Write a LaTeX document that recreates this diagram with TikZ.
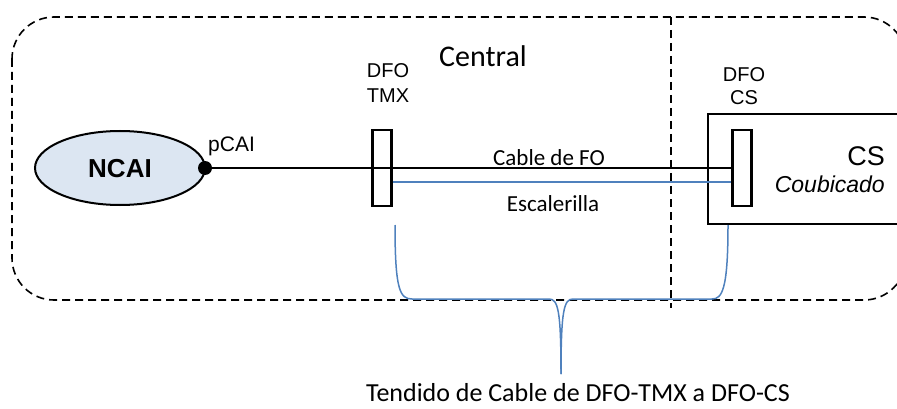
\documentclass[tikz,border=0pt]{standalone}
\usepackage{fontspec}
\setmainfont{Liberation Sans}
\newfontfamily\calib{Carlito}
\usetikzlibrary{shapes.geometric}
\definecolor{lblue}{HTML}{DCE6F2}
\definecolor{bline}{HTML}{4F81BD}
\tikzset{
  dashbox/.style={draw=black, line width=1.6pt, dash pattern=on 8pt off 5pt},
  dfobox/.style={draw=black, line width=2.4pt, fill=white, minimum width=19pt, minimum height=76pt, inner sep=0pt},
  lbl/.style={inner sep=0pt, font=\fontsize{20}{24}\selectfont, align=center},
  cal/.style={inner sep=0pt, font=\calib\fontsize{23}{25}\selectfont},
  bluewire/.style={draw=bline, line width=1.5pt},
}
\begin{document}
\begin{tikzpicture}[x=1pt,y=-1pt]
\useasboundingbox (0,0) rectangle (897,409);
\begin{scope}
\clip (0,0) rectangle (897,409);
% outer dashed region
\draw[dashbox, rounded corners=42pt] (12,17) rectangle (906,300);
\draw[dashbox] (671,17) -- (671,308);
% CS box
\node[draw=black, line width=2.4pt, minimum width=200pt, minimum height=110pt, anchor=north west, inner sep=0pt] (csbox) at (707,113) {};
\end{scope}
\node[lbl, font=\fontsize{27}{29}\selectfont, anchor=base east] (cstext) at (885,165) {CS};
\node[lbl, font=\itshape\fontsize{23}{25}\selectfont, anchor=base east] (coub) at (885,193) {Coubicado};
% NCAI ellipse
\node[ellipse, draw=black, line width=2pt, fill=lblue, minimum width=170pt, minimum height=74pt] (ncai) at (120,168) {};
\node[lbl, font=\bfseries\fontsize{26}{28}\selectfont, anchor=base] (ncaitxt) at (120,177) {NCAI};
\node[circle, fill=black, minimum size=14pt, inner sep=0pt] (pcai) at (205,168) {};
\node[lbl, font=\fontsize{21}{23}\selectfont, anchor=base west] (pcailbl) at (208,152) {pCAI};
% DFO boxes
\node[dfobox] (tmx) at (382,168) {};
\node[dfobox] (dfocs) at (742,168) {};
\node[lbl, anchor=base] (tmxlbl1) at (388,78) {DFO};
\node[lbl, anchor=base] (tmxlbl2) at (388,103) {TMX};
\node[lbl, anchor=base] (dfocslbl1) at (744,82) {DFO};
\node[lbl, anchor=base] (dfocslbl2) at (744,105) {CS};
\node[cal, font=\calib\fontsize{30}{32}\selectfont, anchor=base] (central) at (483,67) {Central};
% cables
\draw[line width=1.5pt] (pcai) -- (dfocs.west |- pcai);
\draw[bluewire] (tmx.east |- 0,182) -- (dfocs.west |- 0,182);
\node[cal, anchor=base] (cablelbl) at (549,165) {Cable de FO};
\node[cal, anchor=base] (esclbl) at (553,211) {Escalerilla};
% brace
\coordinate (bl) at (395,225);
\coordinate (br) at (728,225);
\coordinate (tip) at (561,374);
\draw[bluewire] (bl) .. controls (395,290) and (400,299) .. (412,299) -- (549,299) .. controls (558,299) and (561,310) .. (tip);
\draw[bluewire] (br) .. controls (728,290) and (722,299) .. (712,299) -- (573,299) .. controls (564,299) and (561,310) .. (tip);
\node[cal, font=\calib\fontsize{26}{28}\selectfont, anchor=base] (tend) at (578,401) {Tendido de Cable de DFO-TMX a DFO-CS};
\end{tikzpicture}
\end{document}
